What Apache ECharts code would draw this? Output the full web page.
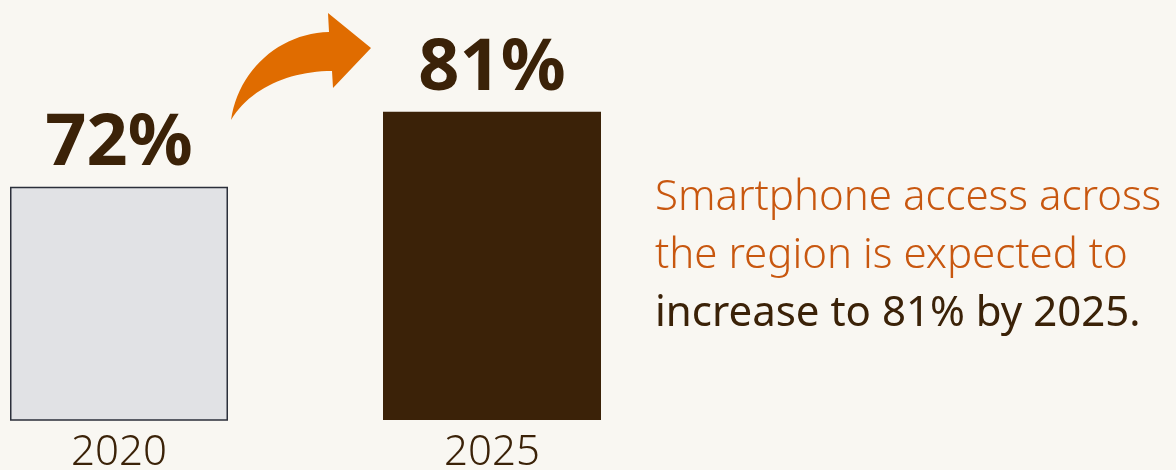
<!DOCTYPE html>
<html>
<head>
<meta charset="utf-8">
<script src="https://cdn.jsdelivr.net/npm/echarts@6/dist/echarts.min.js"></script>
<style>
html,body{margin:0;padding:0;background:#f9f7f2;}
#c{width:1176px;height:470px;}
</style>
</head>
<body>
<div id="c"></div>
<script>
const categories = ['2020', '2025'];
const values = [72, 81];
const barColors = ['#e1e2e5', '#3b2208'];
const noteLines = ['Smartphone access across', 'the region is expected to', 'increase to 81% by 2025.'];

function bez(p0, p1, p2, p3, n) {
  const pts = [];
  for (let i = 0; i <= n; i++) {
    const t = i / n, u = 1 - t;
    pts.push([
      u*u*u*p0[0] + 3*u*u*t*p1[0] + 3*u*t*t*p2[0] + t*t*t*p3[0],
      u*u*u*p0[1] + 3*u*u*t*p1[1] + 3*u*t*t*p2[1] + t*t*t*p3[1]
    ]);
  }
  return pts;
}
const upper = bez([231,120],[238,70],[280,33],[329,32],24);
const lower = bez([332,71],[290,71],[250,88],[231,120],24);
const arrowPts = upper.concat([[328,13],[371,48],[333,88]], lower);

const chart = echarts.init(document.getElementById('c'));
chart.setOption({
  backgroundColor: '#f9f7f2',
  animation: false,
  grid: { left: -67.5, width: 746, top: 0, bottom: 50, containLabel: false, outerBoundsMode: 'none' },
  xAxis: {
    type: 'category',
    data: categories,
    axisLine: { show: false },
    axisTick: { show: false },
    axisLabel: { color: '#3b2208', fontFamily: 'Noto Sans', fontWeight: 300, fontSize: 42, margin: 12 }
  },
  yAxis: {
    type: 'value', min: 44, max: 94.4,
    show: false, splitLine: { show: false }
  },
  series: [{
    type: 'bar',
    barWidth: 218,
    data: values.map((v, i) => ({
      value: v,
      itemStyle: i === 0
        ? { color: barColors[0], borderColor: '#2b2f3a', borderWidth: 1.5 }
        : { color: barColors[1] }
    })),
    label: {
      show: true, position: 'top', distance: 6,
      formatter: '{c}%',
      color: '#3b2208', fontFamily: 'Noto Sans', fontWeight: 'bold', fontSize: 72
    }
  }],
  graphic: [
    {
      type: 'polygon',
      shape: { points: arrowPts },
      style: { fill: '#e06c00' }
    },
    {
      type: 'text',
      left: 655, top: 177,
      style: {
        text: '{o|' + noteLines[0] + '}\n{o|' + noteLines[1] + '}\n{d|' + noteLines[2] + '}',
        rich: {
          o: { fill: '#c8570f', fontFamily: 'Noto Sans', fontWeight: 300, fontSize: 42, lineHeight: 58 },
          d: { fill: '#3b2208', fontFamily: 'Noto Sans', fontWeight: 400, fontSize: 42, lineHeight: 58 }
        }
      }
    }
  ]
});
</script>
</body>
</html>
